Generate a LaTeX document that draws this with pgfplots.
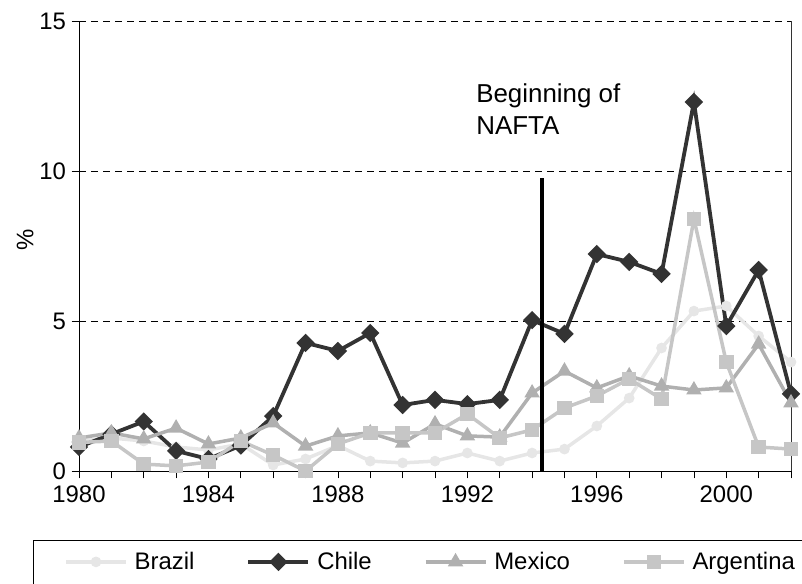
\documentclass[border=0pt]{standalone}
\usepackage{pgfplots}
\pgfplotsset{compat=1.18}
\usepackage{fontspec}
\setmainfont{Liberation Sans}
\definecolor{cbrazil}{HTML}{E6E6E6}
\definecolor{cchile}{HTML}{333333}
\definecolor{cmexico}{HTML}{B0B0B0}
\definecolor{cargentina}{HTML}{C6C6C6}
\begin{document}
\begin{tikzpicture}[x=1bp,y=1bp]
\useasboundingbox (0,0) rectangle (802,584);
\draw[black, line width=0.8bp] (33,44) rectangle (840,-30);
\begin{axis}[
  at={(79bp,113bp)}, anchor=south west,
  scale only axis, width=712bp, height=450bp,
  xmin=1980, xmax=2002, ymin=0, ymax=15,
  axis lines=left, axis line style={-, line width=0.8bp, black},
  xtick={1980,1981,...,2002},
  xticklabels={1980,,,,1984,,,,1988,,,,1992,,,,1996,,,,2000,,},
  ytick={0,5,10,15},
  tick align=outside, major tick length=7.5bp,
  tick style={black, line width=0.8bp},
  extra y ticks={0,5,10,15}, extra y tick labels={},
  extra y tick style={tick align=inside, grid=none},
  ymajorgrids,
  major grid style={black, line width=0.8bp, dash pattern=on 7bp off 5bp},
  /pgf/number format/assume math mode=true,
  ticklabel style={font=\fontsize{24}{28}\selectfont},
  xticklabel style={yshift=-4bp},
  yticklabel style={xshift=-2bp},
  ylabel={\%},
  every axis y label/.style={at={(axis description cs:-0.0758,0.513)}, rotate=90, anchor=center, font=\fontsize{24}{28}\selectfont},
  legend columns=4,
  legend cell align=left,
  legend style={at={(-0.021,-0.202)}, anchor=west, draw=none, fill=none, inner sep=0pt,
    font=\fontsize{24}{28}\selectfont,
    /tikz/every even column/.append style={column sep=50bp},
    /tikz/every odd column/.append style={column sep=5bp}},
  legend image code/.code={\draw[mark repeat=2,mark phase=2,#1] plot coordinates {(0bp,0bp)(30bp,0bp)(60bp,0bp)};},
  clip=false,
]
\addplot[cbrazil, line width=3.5bp, mark=*, mark size=3.5bp, mark options={solid}] coordinates {
(1980,1.0)(1981,1.1)(1982,1.0)(1983,0.8)(1984,0.7)(1985,0.9)(1986,0.2)(1987,0.4)(1988,0.85)(1989,0.33)(1990,0.27)(1991,0.33)(1992,0.6)(1993,0.33)(1994,0.6)(1995,0.73)(1996,1.5)(1997,2.43)(1998,4.1)(1999,5.33)(2000,5.5)(2001,4.5)(2002,3.63)};
\addlegendentry{Brazil}
\addplot[cchile, line width=3.8bp, mark=square*, mark size=4.6bp, mark options={solid, rotate=45}] coordinates {
(1980,0.8)(1981,1.23)(1982,1.65)(1983,0.67)(1984,0.4)(1985,0.85)(1986,1.83)(1987,4.27)(1988,4.0)(1989,4.6)(1990,2.2)(1991,2.37)(1992,2.23)(1993,2.37)(1994,5.03)(1995,4.57)(1996,7.23)(1997,6.97)(1998,6.57)(1999,12.3)(2000,4.83)(2001,6.7)(2002,2.57)};
\addlegendentry{Chile}
\addplot[cmexico, line width=3.5bp, mark=triangle*, mark size=5.5bp, mark options={solid}] coordinates {
(1980,1.1)(1981,1.27)(1982,1.07)(1983,1.43)(1984,0.9)(1985,1.1)(1986,1.6)(1987,0.83)(1988,1.17)(1989,1.27)(1990,0.93)(1991,1.57)(1992,1.17)(1993,1.13)(1994,2.6)(1995,3.33)(1996,2.77)(1997,3.17)(1998,2.83)(1999,2.7)(2000,2.77)(2001,4.23)(2002,2.27)};
\addlegendentry{Mexico}
\addplot[cargentina, line width=3.5bp, mark=square*, mark size=5.5bp, mark options={solid}] coordinates {
(1980,0.95)(1981,1.0)(1982,0.23)(1983,0.17)(1984,0.3)(1985,1.0)(1986,0.53)(1987,0.0)(1988,0.9)(1989,1.27)(1990,1.27)(1991,1.27)(1992,1.9)(1993,1.1)(1994,1.37)(1995,2.1)(1996,2.5)(1997,3.07)(1998,2.4)(1999,8.4)(2000,3.63)(2001,0.8)(2002,0.73)};
\addlegendentry{Argentina}
\addplot[black, line width=4bp, forget plot] coordinates {(1994.3,0)(1994.3,9.77)};
\draw[black!80, line width=0.8bp] (rel axis cs:1,0) -- (rel axis cs:1,1);
\node[anchor=base west, inner sep=0pt, font=\fontsize{26}{32}\selectfont] at (axis cs:1992.27,12.27) {Beginning of};
\node[anchor=base west, inner sep=0pt, font=\fontsize{26}{32}\selectfont] at (axis cs:1992.27,11.2) {NAFTA};
\end{axis}
\end{tikzpicture}
\end{document}
